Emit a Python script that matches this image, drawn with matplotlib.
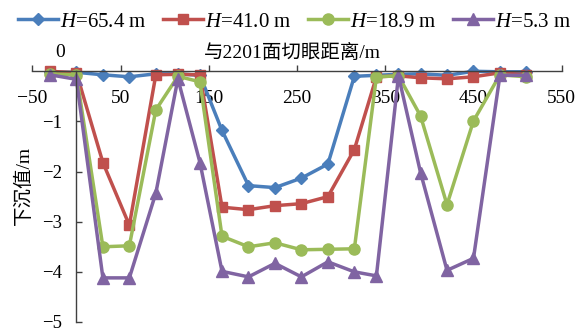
import matplotlib
matplotlib.use('Agg')
import matplotlib.pyplot as plt

plt.rcParams['font.family'] = ['Liberation Serif', 'Noto Sans CJK SC']
plt.rcParams['mathtext.fontset'] = 'custom'
plt.rcParams['mathtext.rm'] = 'Liberation Serif'
plt.rcParams['mathtext.it'] = 'Liberation Serif:italic'
plt.rcParams['axes.unicode_minus'] = True

# ---- data ----
distance = [-30, 0, 30, 60, 90, 115, 140, 165, 195, 225, 255, 285, 315, 340, 365, 390, 420, 450, 480, 510]
h_65_4 = [-0.02, -0.02, -0.07, -0.11, -0.05, -0.05, -0.08, -1.18, -2.28, -2.32, -2.13, -1.85,
          -0.10, -0.08, -0.06, -0.05, -0.08, 0.00, -0.01, -0.01]
h_41_0 = [0.00, -0.03, -1.82, -3.07, -0.07, -0.06, -0.07, -2.71, -2.76, -2.68, -2.64, -2.50,
          -1.56, -0.11, -0.09, -0.13, -0.15, -0.11, -0.03, -0.07]
h_18_9 = [-0.05, -0.07, -3.50, -3.48, -0.77, -0.10, -0.21, -3.29, -3.50, -3.42, -3.56, -3.55,
          -3.54, -0.11, -0.09, -0.89, -2.66, -0.99, -0.07, -0.11]
h_5_3 = [-0.07, -0.16, -4.12, -4.12, -2.43, -0.15, -1.82, -3.99, -4.10, -3.83, -4.10, -3.80,
         -4.00, -4.08, -0.09, -2.02, -3.97, -3.73, -0.08, -0.08]

series_labels = [r'$H$=65.4 m', r'$H$=41.0 m', r'$H$=18.9 m', r'$H$=5.3 m']
xticks = [-50, 50, 150, 250, 350, 450, 550]
yticks = [-5, -4, -3, -2, -1]
xlabel = '与2201面切眼距离/m'
ylabel = '下沉值/m'

colors = ['#4A7EBB', '#C0504D', '#9BBB59', '#8064A2']
markers = ['D', 's', 'o', '^']
msizes = [6, 6.5, 8, 8.5]

fig = plt.figure(figsize=(5.81, 3.31), dpi=100)
ax = fig.add_axes([0.0556, 0.0272, 0.9112, 0.7574])

handles = []
for ys, lab, c, m, ms in zip([h_65_4, h_41_0, h_18_9, h_5_3], series_labels, colors, markers, msizes):
    ln, = ax.plot(distance, ys, color=c, lw=2.5, marker=m, ms=ms, mfc=c, mec=c,
                  label=lab, clip_on=False)
    handles.append(ln)

ax.set_xlim(-50, 550)
ax.set_ylim(-5, 0)
ax.set_xticks(xticks)
ax.set_yticks(yticks)

for s in ['top', 'right']:
    ax.spines[s].set_visible(False)
ax.spines['bottom'].set_position(('data', 0))
ax.spines['left'].set_position(('data', 0))
for s in ['bottom', 'left']:
    ax.spines[s].set_color('#404040')
    ax.spines[s].set_linewidth(1.0)

ax.tick_params(axis='x', direction='in', length=4, width=1, color='#404040', pad=13.5, labelsize=14)
ax.tick_params(axis='y', direction='in', length=4, width=1, color='#404040', pad=10, labelsize=13.5)

ax.set_xlabel(xlabel, fontsize=14)
ax.xaxis.label.set_va('center')
ax.xaxis.set_label_coords(0.4906, 1.075)
ax.set_ylabel(ylabel, fontsize=14)
ax.yaxis.label.set_va('center')
ax.yaxis.set_label_coords(-0.016, 0.545)

ax.text(0.0523, 1.075, '0', transform=ax.transAxes, ha='center', va='center', fontsize=14)

fig.legend(handles, series_labels, loc='center', bbox_to_anchor=(0.507, 0.934), ncol=4,
           frameon=False, handlelength=1.9, handletextpad=0.1, columnspacing=0.8,
           fontsize=15, borderpad=0)

fig.savefig('out.png', dpi=100)
